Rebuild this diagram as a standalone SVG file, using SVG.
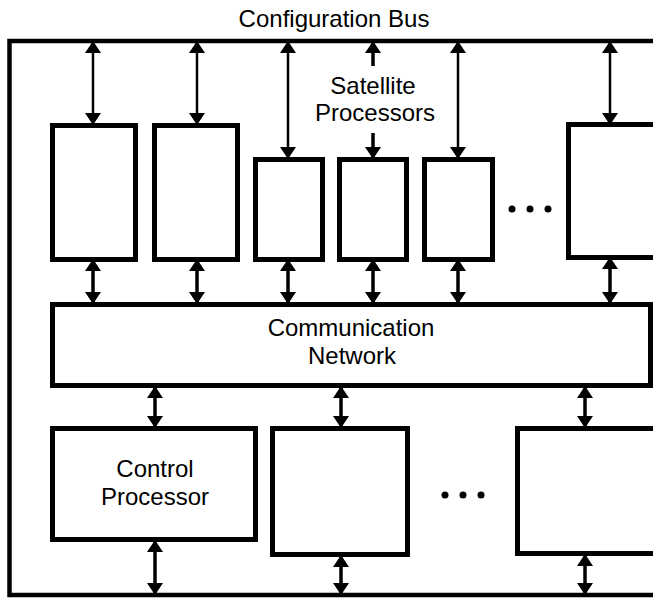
<svg xmlns="http://www.w3.org/2000/svg" width="653" height="598" viewBox="0 0 653 598">
<style>
.box{fill:#fff;stroke:#000;stroke-width:5}
.lbl{font-family:"Liberation Sans",Arial,Helvetica,sans-serif;font-size:24px;fill:#000;text-anchor:middle}
.thin{stroke:#000;stroke-width:2.5;fill:none}
.thick{stroke:#000;stroke-width:3.5;fill:none}
.dot{fill:#000}
</style>
<defs>
<marker id="ah" viewBox="0 0 12 16" refX="11" refY="8" markerWidth="12" markerHeight="16" markerUnits="userSpaceOnUse" orient="auto-start-reverse">
<path d="M0,0 L12,8 L0,16 z" fill="#000"/>
</marker>
</defs>
<rect width="653" height="598" fill="#fff"/>
<g id="config-bus">
<path d="M660,41 H9.5 V595 H660" fill="none" stroke="#000" stroke-width="4.5"/>
<text class="lbl" x="334" y="27">Configuration Bus</text>
</g>
<g id="sat1"><rect class="box" x="52.5" y="125.5" width="83" height="134"/></g>
<g id="sat2"><rect class="box" x="154.5" y="125.5" width="83" height="134"/></g>
<g id="sat3"><rect class="box" x="255.5" y="159.5" width="67" height="100"/></g>
<g id="sat4"><rect class="box" x="339.5" y="159.5" width="67" height="100"/></g>
<g id="sat5"><rect class="box" x="424.5" y="159.5" width="68" height="100"/></g>
<g id="sat6"><rect class="box" x="568.5" y="124.5" width="100" height="133"/></g>
<g id="sat-label">
<text class="lbl" x="373" y="94">Satellite</text>
<text class="lbl" x="375" y="121">Processors</text>
</g>
<g id="sat-dots">
<circle class="dot" cx="512" cy="209" r="3.5"/>
<circle class="dot" cx="530" cy="209" r="3.5"/>
<circle class="dot" cx="548" cy="209" r="3.5"/>
</g>
<g id="network">
<rect class="box" x="52.5" y="304.5" width="598" height="81"/>
<text class="lbl" x="351" y="336">Communication</text>
<text class="lbl" x="352" y="364">Network</text>
</g>
<g id="control">
<rect class="box" x="52.5" y="428.5" width="203" height="111"/>
<text class="lbl" x="155" y="477">Control</text>
<text class="lbl" x="155" y="505">Processor</text>
</g>
<g id="proc2"><rect class="box" x="272.5" y="428.5" width="135" height="126"/></g>
<g id="proc3"><rect class="box" x="517.5" y="428.5" width="200" height="125"/></g>
<g id="bottom-dots">
<circle class="dot" cx="445" cy="495" r="3.5"/>
<circle class="dot" cx="463" cy="495" r="3.5"/>
<circle class="dot" cx="481" cy="495" r="3.5"/>
</g>
<g id="connectors">
<line class="thin" x1="93" y1="42" x2="93" y2="124" marker-start="url(#ah)" marker-end="url(#ah)"/>
<line class="thin" x1="197" y1="42" x2="197" y2="124" marker-start="url(#ah)" marker-end="url(#ah)"/>
<line class="thin" x1="288" y1="42" x2="288" y2="158" marker-start="url(#ah)" marker-end="url(#ah)"/>
<line class="thick" x1="373" y1="66" x2="373" y2="42" marker-end="url(#ah)"/>
<line class="thick" x1="373" y1="133" x2="373" y2="158" marker-end="url(#ah)"/>
<line class="thin" x1="458" y1="42" x2="458" y2="158" marker-start="url(#ah)" marker-end="url(#ah)"/>
<line class="thin" x1="610" y1="42" x2="610" y2="124" marker-start="url(#ah)" marker-end="url(#ah)"/>
<line class="thick" x1="93" y1="260" x2="93" y2="303" marker-start="url(#ah)" marker-end="url(#ah)"/>
<line class="thick" x1="197" y1="260" x2="197" y2="303" marker-start="url(#ah)" marker-end="url(#ah)"/>
<line class="thick" x1="288" y1="260" x2="288" y2="303" marker-start="url(#ah)" marker-end="url(#ah)"/>
<line class="thick" x1="373" y1="260" x2="373" y2="303" marker-start="url(#ah)" marker-end="url(#ah)"/>
<line class="thick" x1="458" y1="260" x2="458" y2="303" marker-start="url(#ah)" marker-end="url(#ah)"/>
<line class="thick" x1="610" y1="258" x2="610" y2="303" marker-start="url(#ah)" marker-end="url(#ah)"/>
<line class="thick" x1="155" y1="387" x2="155" y2="427" marker-start="url(#ah)" marker-end="url(#ah)"/>
<line class="thick" x1="341" y1="387" x2="341" y2="427" marker-start="url(#ah)" marker-end="url(#ah)"/>
<line class="thick" x1="585" y1="387" x2="585" y2="427" marker-start="url(#ah)" marker-end="url(#ah)"/>
<line class="thick" x1="155" y1="541" x2="155" y2="594" marker-start="url(#ah)" marker-end="url(#ah)"/>
<line class="thick" x1="341" y1="556" x2="341" y2="594" marker-start="url(#ah)" marker-end="url(#ah)"/>
<line class="thick" x1="585" y1="555" x2="585" y2="594" marker-start="url(#ah)" marker-end="url(#ah)"/>
</g>
</svg>
